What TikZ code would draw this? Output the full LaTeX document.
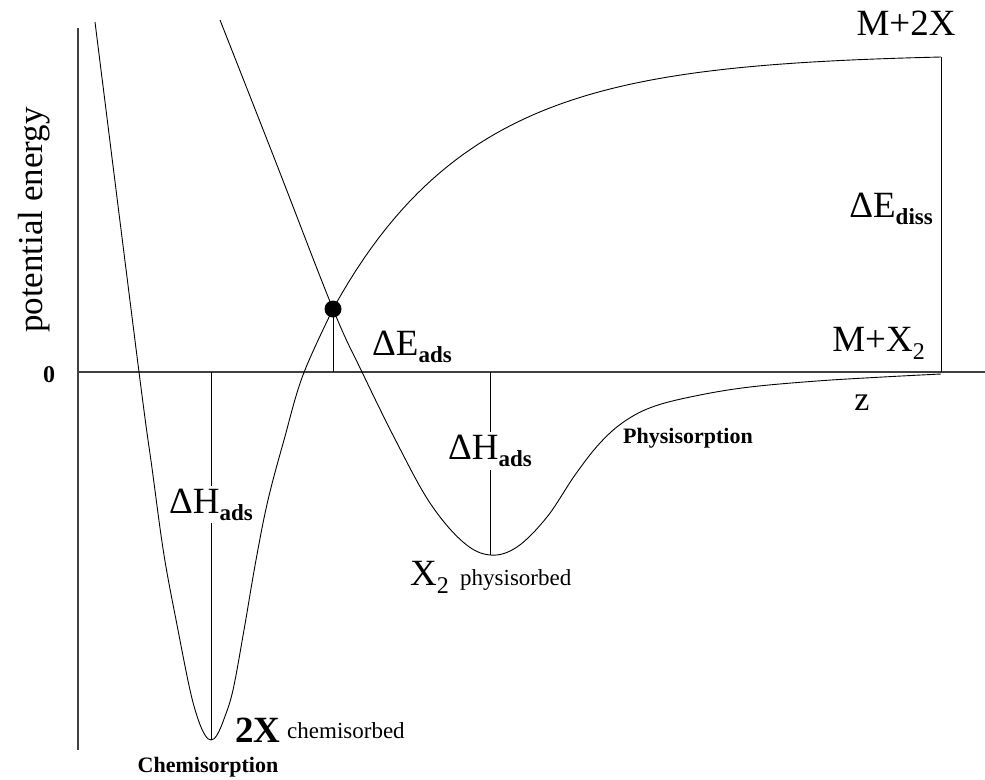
\documentclass[tikz,border=0pt]{standalone}
\usepackage{fontspec}
\setmainfont{Liberation Serif}
\usetikzlibrary{calc}
\tikzset{
  curve/.style={black, line width=0.9pt},
  axisline/.style={black!75, line width=1.4pt},
  level/.style={black, line width=0.9pt},
  big/.style={inner sep=0pt, font=\fontsize{37}{40}\selectfont},
  gap/.style={big, fill=white, inner sep=3pt},
  small/.style={inner sep=0pt, font=\fontsize{22}{24}\selectfont\bfseries},
  note/.style={inner sep=0pt, font=\fontsize{23}{25}\selectfont}
}
\newcommand{\dsub}[2]{#1\raisebox{-7pt}{\fontsize{23}{24}\selectfont\bfseries #2}}
\newcommand{\nsub}[2]{#1\raisebox{-8pt}{\fontsize{24}{24}\selectfont #2}}

\begin{document}
\begin{tikzpicture}[x=1pt, y=-1pt]
  \useasboundingbox (0,0) rectangle (985,779);

  % axes
  \coordinate (zero) at (78,372);
  \coordinate (ytop) at (78,28);
  \coordinate (ybot) at (78,750);
  \coordinate (xend) at (985,372);
  \draw[axisline] (ytop) -- (ybot);
  \draw[axisline] (zero) -- (xend);
  \node[inner sep=0pt, font=\fontsize{35}{38}\selectfont, rotate=90] (ylab) at (34,220) {potential energy};
  \node[inner sep=0pt, font=\fontsize{24}{26}\selectfont\bfseries] (zlab) at (49,375) {0};

  % key points
  \coordinate (chemmin) at (211,740);
  \coordinate (physmin) at (490,555);
  \coordinate (ts) at (333,309);
  \coordinate (diss) at (941,57);

  % chemisorption well and dissociation branch
  \draw[curve] plot[smooth, tension=0.6] coordinates {(95,22) (139,372) (152,468) (164,555) (178,630)
    (190,690) (198,719) (205,735) (211,740) (217,735) (224,719) (233,690) (244,630) (256,560) (268,500)
    (284,440) (303,375) (ts)};
  \pgfmathsetmacro{\ek}{exp(-608/140)}
  \draw[curve] plot[domain=333:941, samples=80] (\x, {57+252*(exp(-(\x-333)/140)-\ek)/(1-\ek)});

  % physisorption well
  \draw[curve] plot[smooth, tension=0.6] coordinates {(220,20) (275,160) (ts) (362,372) (397,443)
    (430,503) (463,542) (physmin) (517,547) (547,517) (575,475) (600,443) (625,421) (655,406) (700,395)
    (750,387) (817,381) (883,377) (941,374)};

  % energy levels
  \draw[level] (chemmin |- zero) -- node[gap, pos=0.36] (dhchem) {\dsub{ΔH}{ads}} (chemmin);
  \draw[level] (physmin |- zero) -- node[gap, pos=0.43] (dhphys) {\dsub{ΔH}{ads}} (physmin);
  \draw[level] (ts) -- (ts |- zero);
  \draw[level] (diss) -- (diss |- zero);
  \fill (ts) circle (8.5);

  % labels
  \node[big, anchor=base west] (deads) at (372,355) {\dsub{ΔE}{ads}};
  \node[big, anchor=base east] (dediss) at (933,217) {\dsub{ΔE}{diss}};
  \node[big, anchor=base] (m2x) at (906,35) {M+2X};
  \node[big, anchor=base east] (mx2) at (925,351) {\nsub{M+X}{2}};
  \node[inner sep=0pt, font=\fontsize{34}{36}\selectfont, anchor=base] (zax) at (862,410) {z};
  \node[small, anchor=base west] (physorp) at (623,443) {Physisorption};
  \node[big, anchor=base west] (x2) at (410,585) {\nsub{X}{2}};
  \node[note, anchor=base west] (physbed) at (460,585) {physisorbed};
  \node[big, anchor=base west, font=\fontsize{37}{40}\selectfont\bfseries] (twox) at (235,742) {2X};
  \node[note, anchor=base west] (chembed) at (287,738) {chemisorbed};
  \node[small, anchor=base] (chemorp) at (208,772) {Chemisorption};
\end{tikzpicture}
\end{document}
